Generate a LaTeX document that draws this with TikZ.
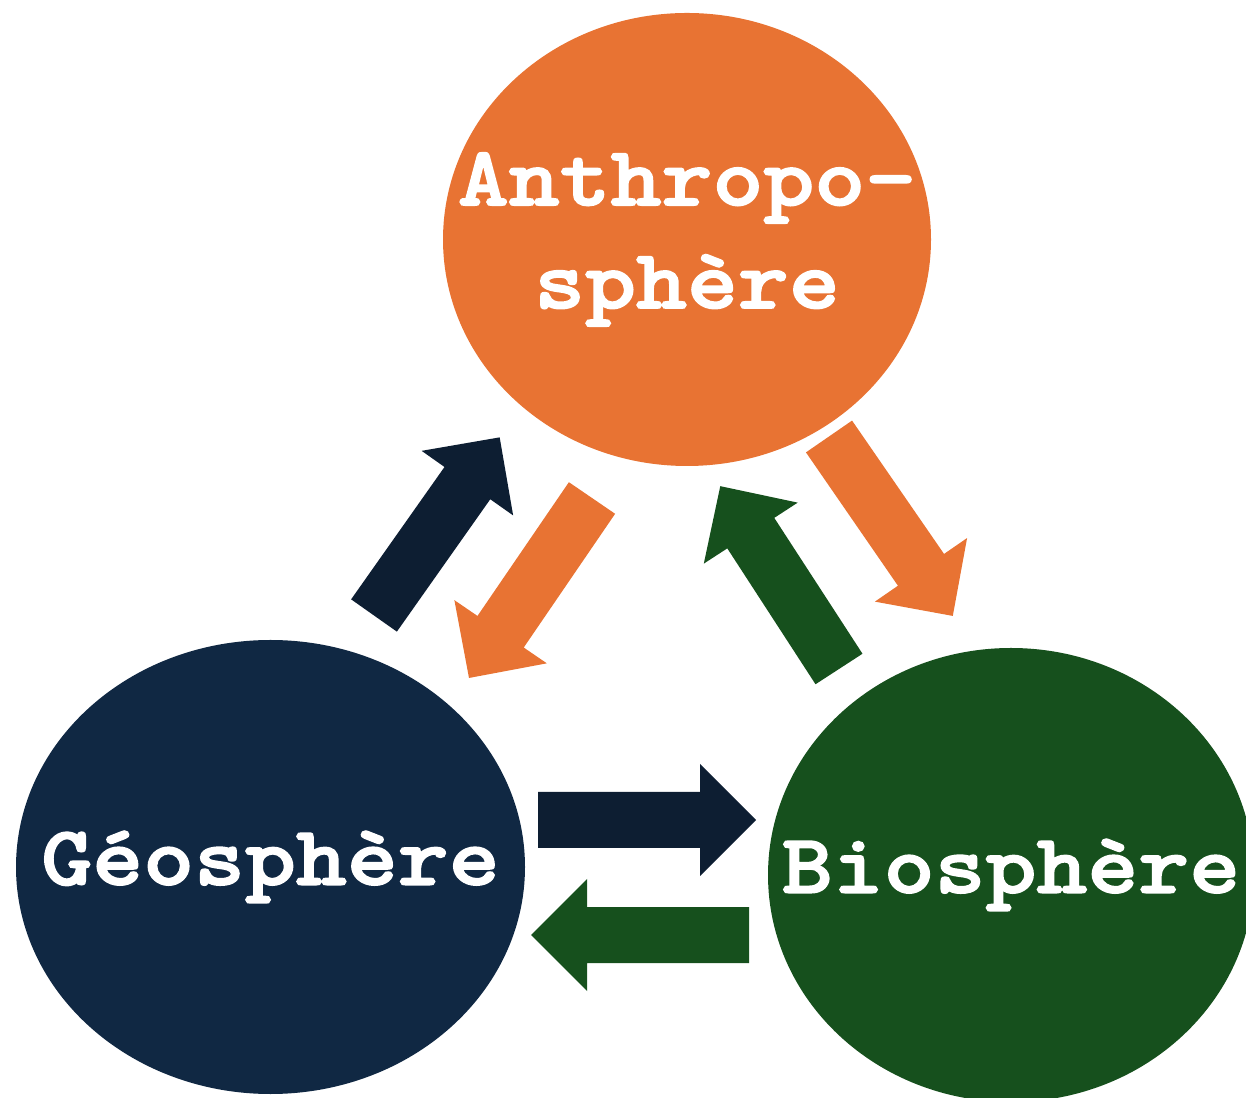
\documentclass[tikz,border=0pt]{standalone}
\usepackage{fontspec}
\usetikzlibrary{shapes.geometric}
\newfontfamily\spherefont[FakeStretch=1.15,FakeBold=2]{lmmonolt10-bold.otf}
\definecolor{orangeS}{HTML}{E87333}
\definecolor{navyS}{HTML}{102843}
\definecolor{navyA}{HTML}{0D1E32}
\definecolor{greenS}{HTML}{16501D}

\begin{document}
\begin{tikzpicture}[
			sphere/.style={ellipse,inner sep=0pt},
			label/.style={text=white,align=center,inner sep=0pt,
			font=\spherefont\fontsize{48}{58.6}\selectfont}
			]
			\useasboundingbox (0,0) rectangle (24.92,21.94);
			\node[sphere, fill=orangeS, minimum width=9.76cm, minimum height=9.06cm] (anthro)
				at (13.74,17.15) {};
			\node[sphere, fill=navyS, minimum width=10.18cm, minimum height=9.08cm] (geo)
				at (5.41,4.6) {};
			\node[sphere, fill=greenS, minimum width=9.72cm, minimum height=9.08cm] (bio)
				at (20.22,4.44) {};
			\node[label] (anthroText) at (anthro) {Anthropo-\\sphère};
			\node[label] (geoText) at (geo) {Géosphère};
			\node[label] (bioText) at (bio) {Biosphère};
			% block arrows: colour / tail x / tail y / direction
			\foreach \col/\x/\y/\ang in {navyA/7.48/9.63/54.8, orangeS/11.84/11.98/-124.35,
					orangeS/16.58/13.21/-55.4, greenS/16.78/8.56/123.0,
					navyA/10.76/5.54/0, greenS/14.98/3.24/180}
				\fill[\col, shift={(\x,\y)}, rotate=\ang] (0,-0.56) -- (3.24,-0.56)
					-- (3.24,-1.12) -- (4.36,0) -- (3.24,1.12) -- (3.24,0.56) -- (0,0.56) -- cycle;
		\end{tikzpicture}
\end{document}
